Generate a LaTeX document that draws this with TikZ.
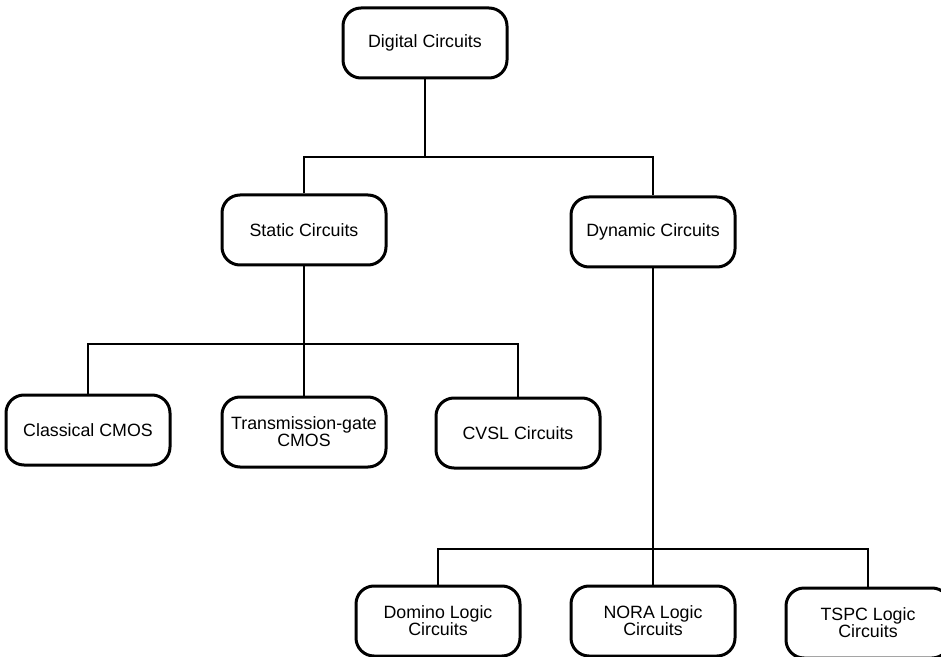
\documentclass[tikz,border=0pt]{standalone}
\usepackage{fontspec}
\setmainfont{Liberation Sans}

\begin{document}
\begin{tikzpicture}[x=0.5pt, y=-0.5pt]
    \tikzstyle{block} = [draw, rectangle, rounded corners=9pt, line width=1.5pt,
    minimum height=35pt, minimum width=82pt, align=center,
    font=\fontsize{8.9}{8.6}\selectfont]
    \tikzstyle{branch} = [coordinate]
    \tikzstyle{wire} = [line width=1pt]

    \useasboundingbox (0,0) rectangle (941,657);

    \node [block] (digital) at (425,43) {Digital Circuits};
    \node [block] (static) at (304,230) {Static Circuits};
    \node [block] (dynamic) at (653,232) {Dynamic Circuits};
    \node [block] (classical) at (88,430) {Classical CMOS};
    \node [block] (tgate) at (304,432) {Transmission-gate\\CMOS};
    \node [block] (cvsl) at (518,433) {CVSL Circuits};
    \node [block] (domino) at (438,621) {Domino Logic\\Circuits};
    \node [block] (nora) at (653,621) {NORA Logic\\Circuits};
    \node [block] (tspc) at (868,623) {TSPC Logic\\Circuits};

    \node [branch] (split1) at (425,157) {};
    \node [branch] (split2) at (304,344) {};
    \node [branch] (split3) at (653,549) {};

    \draw [wire] (digital) -- (split1);
    \draw [wire] (static) |- (split1) -| (dynamic);
    \draw [wire] (static) -- (tgate);
    \draw [wire] (classical) |- (split2) -| (cvsl);
    \draw [wire] (dynamic) -- (nora);
    \draw [wire] (domino) |- (split3) -| (tspc);
\end{tikzpicture}
\end{document}
